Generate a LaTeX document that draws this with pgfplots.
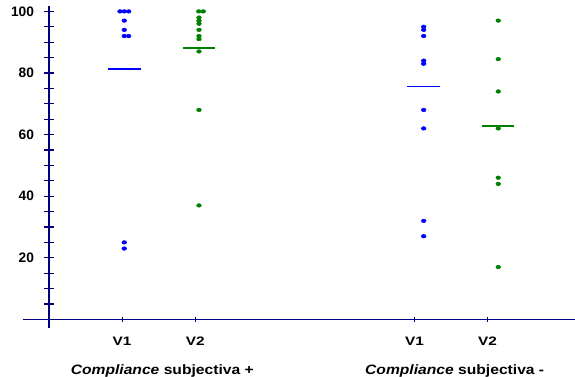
\documentclass[border=0pt]{standalone}
\usepackage{fontspec}
\setmainfont{Liberation Sans}
\newfontfamily\vfont{Liberation Sans}[FakeStretch=1.25]
\newfontfamily\gfont{Liberation Sans}[FakeStretch=1.15]
\usepackage{pgfplots}
\pgfplotsset{compat=1.18}
\definecolor{axisnavy}{RGB}{0,0,128}
\definecolor{dotblue}{RGB}{0,0,255}
\definecolor{dotgreen}{RGB}{0,128,0}
\begin{document}
\begin{tikzpicture}
\begin{axis}[
  x=54.825pt, y=2.31pt,
  xmin=-0.36, xmax=7.196, ymin=-2.8, ymax=101.6,
  axis lines=middle,
  axis line style={-, draw=axisnavy, line width=1.1pt},
  clip=false,
  xtick={1,2,5,6}, xticklabels={V1,V2,V1,V2},
  ytick={20,40,60,80,100},
  minor ytick={5,10,15,25,30,35,45,50,55,65,70,75,85,90,95},
  tick align=center,
  major tick length=7.5pt, minor tick length=7.5pt,
  tick style={draw=axisnavy, line width=0.8pt},
  xtick style={/pgfplots/major tick length=3.5pt},
  /pgf/number format/assume math mode=true,
  yticklabel style={font=\bfseries\fontsize{10.3}{11}\selectfont, xshift=-4pt},
  xticklabel style={font=\vfont\bfseries\fontsize{9.2}{10}\selectfont, yshift=-6pt},
]
% x axis line continues a little to the left of the y axis
\draw[axisnavy, line width=1.1pt] (axis cs:-0.36,0) -- (axis cs:0.1,0);
% group means
\addplot[dotblue, line width=1.3pt] coordinates {(0.807,81.3) (1.253,81.3)};
\addplot[dotgreen, line width=1.3pt] coordinates {(1.835,88.0) (2.269,88.0)};
\addplot[dotblue, line width=1.3pt] coordinates {(4.903,75.6) (5.349,75.6)};
\addplot[dotgreen, line width=1.3pt] coordinates {(5.926,62.9) (6.366,62.9)};
% individual scores, visit 1
\addplot[only marks, mark=*, mark size=1.35pt, dotblue, mark options={xscale=1.3}] coordinates {
  (0.971,100) (1.030,100) (1.090,100) (1.030,97) (1.030,94) (1.030,92) (1.090,92)
  (1.030,25) (1.030,23)
  (5.126,95) (5.126,94) (5.126,92) (5.126,84) (5.126,83) (5.126,68) (5.126,62)
  (5.126,32) (5.126,27)};
% individual scores, visit 2
\addplot[only marks, mark=*, mark size=1.35pt, dotgreen, mark options={xscale=1.3}] coordinates {
  (2.048,100) (2.111,100) (2.052,98) (2.052,97) (2.052,96) (2.052,94) (2.052,92)
  (2.052,91) (2.052,87) (2.052,68) (2.052,37)
  (6.146,97) (6.146,84.5) (6.146,74) (6.146,62) (6.146,46) (6.146,44) (6.146,17)};
\node[font=\gfont\bfseries\fontsize{10.2}{12}\selectfont] at (axis cs:1.55,-16.9) {{\itshape Compliance} subjectiva +};
\node[font=\gfont\bfseries\fontsize{10.2}{12}\selectfont] at (axis cs:5.55,-16.9) {{\itshape Compliance} subjectiva -};
\coordinate (ll) at (axis cs:-0.670,-18.67);
\coordinate (ur) at (axis cs:7.196,103.7);
\end{axis}
\pgfresetboundingbox
\useasboundingbox (ll) rectangle (ur);
\end{tikzpicture}
\end{document}
